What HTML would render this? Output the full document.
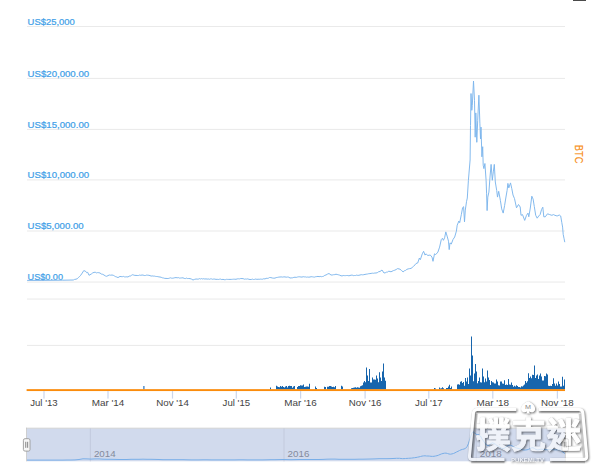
<!DOCTYPE html>
<html><head><meta charset="utf-8"><title>chart</title>
<style>
html,body{margin:0;padding:0;background:#fff;}
body{width:600px;height:476px;overflow:hidden;font-family:"Liberation Sans",sans-serif;}
svg{display:block;font-family:"Liberation Sans",sans-serif;}
</style></head><body>
<svg width="600" height="476" viewBox="0 0 600 476">
<rect width="600" height="476" fill="#fff"/>
<rect x="573" y="0" width="13" height="1" fill="#4a4a4a"/>
<rect x="27" y="25.97" width="538" height="1.06" fill="#eaeaea"/>
<rect x="27" y="77.87" width="538" height="1.06" fill="#eaeaea"/>
<rect x="27" y="128.87" width="538" height="1.06" fill="#eaeaea"/>
<rect x="27" y="179.37" width="538" height="1.06" fill="#eaeaea"/>
<rect x="27" y="230.47" width="538" height="1.06" fill="#eaeaea"/>
<rect x="27" y="281.52" width="538" height="1.06" fill="#eaeaea"/>
<rect x="27" y="298.52" width="538" height="1.06" fill="#eaeaea"/>
<rect x="27" y="344.87" width="538" height="1.06" fill="#eaeaea"/>
<text x="27.6" y="24.9" font-size="8.7" fill="#429fe8" stroke="#429fe8" stroke-width="0.22" textLength="47.2" lengthAdjust="spacingAndGlyphs">US$25,000</text>
<text x="27.6" y="76.80000000000001" font-size="8.7" fill="#429fe8" stroke="#429fe8" stroke-width="0.22" textLength="61.5" lengthAdjust="spacingAndGlyphs">US$20,000.00</text>
<text x="27.6" y="127.80000000000001" font-size="8.7" fill="#429fe8" stroke="#429fe8" stroke-width="0.22" textLength="61.5" lengthAdjust="spacingAndGlyphs">US$15,000.00</text>
<text x="27.6" y="178.3" font-size="8.7" fill="#429fe8" stroke="#429fe8" stroke-width="0.22" textLength="61.5" lengthAdjust="spacingAndGlyphs">US$10,000.00</text>
<text x="27.6" y="229.4" font-size="8.7" fill="#429fe8" stroke="#429fe8" stroke-width="0.22" textLength="56" lengthAdjust="spacingAndGlyphs">US$5,000.00</text>
<text x="27.6" y="280.45" font-size="8.7" fill="#429fe8" stroke="#429fe8" stroke-width="0.22" textLength="35.4" lengthAdjust="spacingAndGlyphs">US$0.00</text>
<path d="M27.5 280.4 L40.0 280.4 L62.7 280.2 L73.3 280.0 L74.6 279.4 L76.0 279.2 L77.3 278.7 L78.4 277.5 L79.6 276.5 L80.7 275.3 L82.2 273.1 L83.7 270.7 L85.3 271.0 L86.7 272.7 L87.7 272.3 L89.0 275.3 L91.3 274.0 L92.7 272.9 L94.0 272.4 L95.2 272.2 L96.4 272.9 L97.6 272.6 L98.8 272.7 L100.0 273.0 L101.3 274.0 L102.7 274.3 L104.0 275.0 L105.3 275.9 L106.7 276.3 L108.0 275.6 L109.3 275.0 L110.6 275.2 L112.0 275.0 L113.3 275.3 L114.5 276.0 L115.7 276.7 L116.8 277.0 L118.0 277.6 L120.0 276.4 L121.1 276.6 L122.3 276.7 L123.4 276.4 L124.6 276.9 L125.7 276.9 L126.9 276.8 L128.0 277.0 L129.2 276.1 L130.3 276.1 L131.5 275.3 L132.7 274.7 L133.8 275.1 L134.9 275.4 L136.0 275.4 L137.2 275.5 L138.4 275.5 L139.6 275.1 L140.8 275.3 L142.0 275.0 L143.1 275.1 L144.3 275.5 L145.4 275.5 L146.6 275.1 L147.7 275.2 L148.9 275.3 L150.0 275.6 L151.1 276.1 L152.2 275.9 L153.3 276.1 L154.4 276.1 L155.6 276.4 L156.7 276.5 L157.8 276.6 L158.9 276.9 L160.0 277.0 L161.2 277.3 L162.4 277.8 L163.6 278.0 L164.8 278.4 L166.0 278.4 L167.1 278.5 L168.2 278.5 L169.3 278.2 L170.4 277.8 L171.6 278.2 L172.7 278.2 L173.8 278.0 L174.9 277.7 L176.0 277.6 L177.2 277.8 L178.3 277.6 L179.5 278.1 L180.7 278.0 L181.8 277.9 L183.0 277.8 L184.2 278.4 L185.3 278.6 L186.5 278.1 L187.7 278.6 L188.8 278.5 L190.0 278.6 L191.5 279.1 L193.0 280.0 L194.5 279.4 L196.0 279.0 L197.1 279.1 L198.2 279.2 L199.3 278.6 L200.4 279.0 L201.6 278.6 L202.7 279.0 L203.8 278.7 L204.9 279.1 L206.0 278.8 L207.1 279.2 L208.2 278.9 L209.3 279.3 L210.4 278.9 L211.6 278.9 L212.7 279.3 L213.8 279.0 L214.9 279.1 L216.0 279.4 L217.2 279.3 L218.3 279.5 L219.5 279.2 L220.7 279.1 L221.8 279.6 L223.0 279.3 L224.2 279.7 L225.3 279.7 L226.5 279.3 L227.7 279.4 L228.8 279.4 L230.0 279.4 L231.2 279.4 L232.4 279.3 L233.6 279.2 L234.8 279.2 L236.0 279.3 L237.2 278.9 L238.4 278.8 L239.6 278.9 L240.8 278.5 L242.0 278.6 L243.1 278.6 L244.3 279.2 L245.4 279.0 L246.6 279.1 L247.7 278.9 L248.9 279.3 L250.0 279.5 L251.2 279.5 L252.3 279.1 L253.5 279.5 L254.6 279.4 L255.8 279.0 L256.9 279.4 L258.1 279.2 L259.2 279.3 L260.4 279.1 L261.5 279.2 L262.7 279.2 L263.8 278.7 L265.0 279.0 L266.1 278.3 L267.2 278.4 L268.4 278.2 L269.5 277.5 L270.9 277.6 L272.3 278.0 L273.8 278.2 L275.0 278.1 L276.2 277.6 L277.5 277.4 L278.8 277.1 L280.0 277.0 L281.2 276.9 L282.5 277.1 L283.8 276.9 L285.0 276.9 L286.2 277.2 L287.5 277.0 L288.8 277.2 L290.0 278.0 L291.2 277.9 L292.5 277.8 L293.8 277.4 L295.0 277.2 L296.2 277.4 L297.5 277.0 L298.6 276.8 L299.8 276.8 L300.9 277.0 L302.0 277.1 L303.2 276.7 L304.3 276.9 L305.5 276.9 L306.6 277.2 L307.7 277.0 L308.9 277.2 L310.0 277.0 L311.1 276.7 L312.3 276.8 L313.4 277.0 L314.5 277.1 L315.7 276.7 L316.8 276.6 L318.0 276.4 L319.1 276.7 L320.2 276.4 L321.4 276.7 L322.5 276.5 L323.7 276.2 L324.8 275.3 L326.0 275.0 L327.5 274.1 L329.0 273.5 L331.0 275.0 L332.2 275.0 L333.5 274.7 L334.8 274.6 L336.0 274.2 L337.2 274.5 L338.5 274.8 L339.8 275.2 L341.0 275.8 L342.1 275.9 L343.2 275.5 L344.4 275.6 L345.5 275.6 L346.6 275.5 L347.8 275.5 L348.9 275.8 L350.0 275.5 L351.1 275.2 L352.2 275.1 L353.3 275.6 L354.4 275.5 L355.6 275.5 L356.7 275.1 L357.8 275.4 L358.9 275.3 L360.0 275.0 L361.2 274.7 L362.5 274.8 L363.8 274.7 L365.0 274.4 L366.2 274.2 L367.5 274.0 L368.7 273.7 L369.9 273.6 L371.1 273.4 L372.4 273.2 L373.6 273.3 L374.8 273.0 L376.0 273.0 L377.3 272.7 L378.7 271.7 L380.0 271.5 L382.0 270.0 L384.0 273.0 L385.2 272.8 L386.4 272.2 L387.6 272.0 L388.8 271.2 L391.0 271.8 L393.4 270.6 L394.8 270.2 L396.2 269.5 L397.6 268.6 L400.0 269.2 L401.6 270.6 L403.1 271.9 L404.3 270.8 L405.6 270.4 L406.8 269.4 L408.2 268.9 L409.6 268.6 L411.0 268.4 L412.2 267.5 L413.5 266.4 L414.8 265.0 L416.0 263.5 L417.7 263.0 L419.4 258.0 L420.3 259.7 L422.3 253.8 L423.6 251.3 L425.0 255.1 L426.1 253.8 L427.8 255.5 L429.1 255.2 L430.3 255.1 L432.0 257.1 L433.0 261.3 L434.5 253.8 L435.7 254.6 L437.9 252.1 L439.6 247.1 L441.3 239.5 L442.4 238.3 L443.4 240.3 L444.6 237.8 L445.8 231.9 L447.1 236.1 L448.5 241.2 L449.2 249.6 L450.0 242.9 L451.3 244.0 L453.0 239.5 L454.7 237.0 L456.4 231.1 L457.2 225.2 L458.9 221.0 L459.7 222.7 L461.4 214.3 L462.6 207.6 L463.6 206.7 L464.5 221.8 L465.3 210.1 L466.5 201.7 L467.3 198.0 L468.4 180.3 L470.1 160.0 L470.5 125.5 L471.0 93.5 L471.8 110.3 L472.3 105.3 L473.5 81.0 L474.5 100.3 L475.2 137.2 L475.8 112.9 L476.8 142.3 L477.7 120.4 L478.9 95.2 L479.9 123.8 L480.5 138.9 L481.0 127.1 L481.9 156.8 L482.7 146.7 L483.2 165.2 L483.9 168.6 L484.9 163.5 L486.1 180.3 L486.6 193.8 L487.1 210.6 L487.8 197.1 L488.9 192.1 L490.0 177.0 L491.1 164.4 L492.3 180.3 L493.3 171.9 L494.3 164.4 L495.3 182.0 L496.7 190.4 L497.5 197.1 L498.7 191.3 L500.4 200.5 L501.7 208.9 L503.2 213.1 L504.6 205.5 L505.8 198.0 L507.1 190.4 L507.9 183.4 L508.8 187.9 L510.5 182.9 L511.8 188.7 L513.0 195.0 L514.5 198.6 L516.5 207.8 L518.5 204.5 L520.2 207.0 L521.0 215.3 L522.5 214.6 L524.7 220.4 L526.5 215.3 L528.0 213.1 L528.8 216.8 L530.3 208.0 L531.8 196.2 L533.1 199.1 L534.3 206.5 L535.7 215.3 L537.2 218.2 L538.7 216.0 L540.1 214.6 L541.6 209.4 L542.8 207.2 L543.8 216.8 L545.3 216.8 L547.5 213.8 L549.7 214.6 L551.9 215.3 L553.4 214.6 L554.9 215.3 L557.1 216.0 L559.3 215.0 L560.7 216.0 L561.8 222.6 L562.6 227.1 L563.2 234.4 L564.1 238.8 L564.7 241.8" fill="none" stroke="#7cb5ec" stroke-width="0.95" stroke-linejoin="round" stroke-linecap="round"/>
<path d="M270.0 389.5v-2.0h1v2.0zM276.0 389.5v-3.8h1v3.8zM277.0 389.5v-3.0h1v3.0zM278.0 389.5v-2.4h1v2.4zM279.0 389.5v-2.2h1v2.2zM280.0 389.5v-3.6h1v3.6zM281.0 389.5v-2.7h1v2.7zM282.0 389.5v-3.4h1v3.4zM283.0 389.5v-2.4h1v2.4zM284.0 389.5v-2.1h1v2.1zM285.0 389.5v-2.9h1v2.9zM286.0 389.5v-3.5h1v3.5zM287.0 389.5v-2.0h1v2.0zM288.0 389.5v-3.4h1v3.4zM289.0 389.5v-3.7h1v3.7zM290.0 389.5v-3.5h1v3.5zM291.0 389.5v-3.5h1v3.5zM292.0 389.5v-1.7h1v1.7zM293.0 389.5v-3.1h1v3.1zM294.0 389.5v-3.6h1v3.6zM297.0 389.5v-2.6h1v2.6zM298.0 389.5v-3.4h1v3.4zM299.0 389.5v-3.4h1v3.4zM300.0 389.5v-4.3h1v4.3zM301.0 389.5v-3.9h1v3.9zM302.0 389.5v-4.1h1v4.1zM303.0 389.5v-5.1h1v5.1zM304.0 389.5v-2.5h1v2.5zM305.0 389.5v-2.7h1v2.7zM306.0 389.5v-2.9h1v2.9zM307.0 389.5v-2.9h1v2.9zM308.0 389.5v-2.7h1v2.7zM309.0 389.5v-5.8h1v5.8zM315.0 389.5v-3.0h1v3.0zM316.0 389.5v-1.5h1v1.5zM324.0 389.5v-2.8h1v2.8zM325.0 389.5v-2.4h1v2.4zM327.0 389.5v-2.8h1v2.8zM328.0 389.5v-2.8h1v2.8zM329.0 389.5v-3.6h1v3.6zM330.0 389.5v-3.5h1v3.5zM331.0 389.5v-2.9h1v2.9zM332.0 389.5v-2.4h1v2.4zM333.0 389.5v-2.8h1v2.8zM334.0 389.5v-2.2h1v2.2zM335.0 389.5v-3.4h1v3.4zM341.0 389.5v-3.8h1v3.8zM342.0 389.5v-2.9h1v2.9zM351.0 389.5v-1.2h1v1.2zM352.0 389.5v-1.4h1v1.4zM353.0 389.5v-1.7h1v1.7zM354.0 389.5v-2.0h1v2.0zM355.0 389.5v-2.3h1v2.3zM356.0 389.5v-1.7h1v1.7zM357.0 389.5v-2.3h1v2.3zM358.0 389.5v-2.0h1v2.0zM359.0 389.5v-1.7h1v1.7zM360.0 389.5v-3.3h1v3.3zM361.0 389.5v-3.7h1v3.7zM362.0 389.5v-4.3h1v4.3zM363.0 389.5v-6.9h1v6.9zM364.0 389.5v-8.6h1v8.6zM365.0 389.5v-7.2h1v7.2zM366.0 389.5v-22.0h1v22.0zM367.0 389.5v-14.0h1v14.0zM368.0 389.5v-8.6h1v8.6zM369.0 389.5v-20.5h1v20.5zM370.0 389.5v-6.9h1v6.9zM371.0 389.5v-7.0h1v7.0zM372.0 389.5v-12.0h1v12.0zM373.0 389.5v-10.0h1v10.0zM374.0 389.5v-10.0h1v10.0zM375.0 389.5v-9.8h1v9.8zM376.0 389.5v-14.0h1v14.0zM377.0 389.5v-11.0h1v11.0zM378.0 389.5v-7.2h1v7.2zM379.0 389.5v-17.3h1v17.3zM380.0 389.5v-12.0h1v12.0zM381.0 389.5v-8.4h1v8.4zM382.0 389.5v-18.0h1v18.0zM383.0 389.5v-26.0h1v26.0zM384.0 389.5v-12.0h1v12.0zM385.0 389.5v-8.8h1v8.8zM434.0 389.5v-1.5h1v1.5zM435.0 389.5v-0.9h1v0.9zM439.0 389.5v-2.0h1v2.0zM440.0 389.5v-1.1h1v1.1zM441.0 389.5v-1.3h1v1.3zM442.0 389.5v-2.3h1v2.3zM443.0 389.5v-1.2h1v1.2zM446.0 389.5v-1.5h1v1.5zM447.0 389.5v-1.6h1v1.6zM448.0 389.5v-3.0h1v3.0zM449.0 389.5v-4.8h1v4.8zM450.0 389.5v-1.4h1v1.4zM451.0 389.5v-3.0h1v3.0zM457.0 389.5v-5.0h1v5.0zM458.0 389.5v-5.3h1v5.3zM459.0 389.5v-4.7h1v4.7zM460.0 389.5v-7.7h1v7.7zM461.0 389.5v-8.2h1v8.2zM462.0 389.5v-6.4h1v6.4zM463.0 389.5v-7.5h1v7.5zM464.0 389.5v-3.8h1v3.8zM465.0 389.5v-11.5h1v11.5zM466.0 389.5v-7.9h1v7.9zM467.0 389.5v-12.0h1v12.0zM468.0 389.5v-5.4h1v5.4zM469.0 389.5v-21.0h1v21.0zM470.0 389.5v-14.0h1v14.0zM471.0 389.5v-53.0h1v53.0zM472.0 389.5v-34.0h1v34.0zM473.0 389.5v-8.3h1v8.3zM474.0 389.5v-16.0h1v16.0zM475.0 389.5v-25.5h1v25.5zM476.0 389.5v-18.0h1v18.0zM477.0 389.5v-6.3h1v6.3zM478.0 389.5v-8.6h1v8.6zM479.0 389.5v-12.0h1v12.0zM480.0 389.5v-7.2h1v7.2zM481.0 389.5v-7.0h1v7.0zM482.0 389.5v-21.0h1v21.0zM483.0 389.5v-13.0h1v13.0zM484.0 389.5v-7.3h1v7.3zM485.0 389.5v-11.0h1v11.0zM486.0 389.5v-7.9h1v7.9zM487.0 389.5v-19.0h1v19.0zM488.0 389.5v-12.0h1v12.0zM489.0 389.5v-9.4h1v9.4zM490.0 389.5v-4.4h1v4.4zM491.0 389.5v-8.5h1v8.5zM492.0 389.5v-7.3h1v7.3zM493.0 389.5v-6.9h1v6.9zM494.0 389.5v-6.1h1v6.1zM495.0 389.5v-5.9h1v5.9zM496.0 389.5v-10.0h1v10.0zM497.0 389.5v-7.9h1v7.9zM498.0 389.5v-4.3h1v4.3zM499.0 389.5v-4.0h1v4.0zM500.0 389.5v-8.0h1v8.0zM501.0 389.5v-8.0h1v8.0zM502.0 389.5v-6.1h1v6.1zM503.0 389.5v-5.7h1v5.7zM504.0 389.5v-9.2h1v9.2zM505.0 389.5v-4.5h1v4.5zM506.0 389.5v-4.9h1v4.9zM507.0 389.5v-4.5h1v4.5zM508.0 389.5v-10.5h1v10.5zM509.0 389.5v-5.1h1v5.1zM510.0 389.5v-4.7h1v4.7zM511.0 389.5v-6.9h1v6.9zM512.0 389.5v-4.4h1v4.4zM513.0 389.5v-2.7h1v2.7zM514.0 389.5v-3.8h1v3.8zM515.0 389.5v-3.0h1v3.0zM516.0 389.5v-4.2h1v4.2zM517.0 389.5v-3.5h1v3.5zM518.0 389.5v-2.6h1v2.6zM519.0 389.5v-2.5h1v2.5zM520.0 389.5v-2.0h1v2.0zM521.0 389.5v-3.2h1v3.2zM522.0 389.5v-2.9h1v2.9zM523.0 389.5v-4.1h1v4.1zM524.0 389.5v-4.9h1v4.9zM525.0 389.5v-8.5h1v8.5zM526.0 389.5v-6.8h1v6.8zM527.0 389.5v-8.2h1v8.2zM528.0 389.5v-16.2h1v16.2zM529.0 389.5v-11.4h1v11.4zM530.0 389.5v-13.0h1v13.0zM531.0 389.5v-11.3h1v11.3zM532.0 389.5v-14.7h1v14.7zM533.0 389.5v-14.6h1v14.6zM534.0 389.5v-24.0h1v24.0zM535.0 389.5v-11.4h1v11.4zM536.0 389.5v-14.0h1v14.0zM537.0 389.5v-14.9h1v14.9zM538.0 389.5v-10.6h1v10.6zM539.0 389.5v-14.0h1v14.0zM540.0 389.5v-15.9h1v15.9zM541.0 389.5v-13.0h1v13.0zM542.0 389.5v-9.0h1v9.0zM543.0 389.5v-9.1h1v9.1zM544.0 389.5v-13.6h1v13.6zM545.0 389.5v-13.2h1v13.2zM546.0 389.5v-15.9h1v15.9zM547.0 389.5v-14.9h1v14.9zM548.0 389.5v-3.7h1v3.7zM549.0 389.5v-3.5h1v3.5zM550.0 389.5v-3.7h1v3.7zM551.0 389.5v-3.5h1v3.5zM552.0 389.5v-5.4h1v5.4zM553.0 389.5v-11.3h1v11.3zM554.0 389.5v-6.1h1v6.1zM555.0 389.5v-3.7h1v3.7zM556.0 389.5v-6.0h1v6.0zM557.0 389.5v-3.9h1v3.9zM558.0 389.5v-8.0h1v8.0zM559.0 389.5v-5.5h1v5.5zM560.0 389.5v-3.1h1v3.1zM561.0 389.5v-3.1h1v3.1zM562.0 389.5v-12.7h1v12.7zM563.0 389.5v-3.8h1v3.8zM564.0 389.5v-10.0h1v10.0z" fill="#1765ad"/>
<rect x="143.3" y="386" width="1.2" height="3.5" fill="#2a74c0"/>
<rect x="26.6" y="389.15" width="538.4" height="1.9" fill="#fb8c0c"/>
<rect x="43.4" y="391" width="1.2" height="7.6" fill="#ccd6eb"/>
<text x="30.2" y="406.1" font-size="9.8" fill="#444" textLength="27.5" lengthAdjust="spacingAndGlyphs">Jul '13</text>
<rect x="107.4" y="391" width="1.2" height="7.6" fill="#ccd6eb"/>
<text x="91.7" y="406.1" font-size="9.8" fill="#444" textLength="32.7" lengthAdjust="spacingAndGlyphs">Mar '14</text>
<rect x="171.9" y="391" width="1.2" height="7.6" fill="#ccd6eb"/>
<text x="156.2" y="406.1" font-size="9.8" fill="#444" textLength="32.7" lengthAdjust="spacingAndGlyphs">Nov '14</text>
<rect x="235.70000000000002" y="391" width="1.2" height="7.6" fill="#ccd6eb"/>
<text x="222.6" y="406.1" font-size="9.8" fill="#444" textLength="27.5" lengthAdjust="spacingAndGlyphs">Jul '15</text>
<rect x="300.0" y="391" width="1.2" height="7.6" fill="#ccd6eb"/>
<text x="284.2" y="406.1" font-size="9.8" fill="#444" textLength="32.7" lengthAdjust="spacingAndGlyphs">Mar '16</text>
<rect x="364.5" y="391" width="1.2" height="7.6" fill="#ccd6eb"/>
<text x="348.8" y="406.1" font-size="9.8" fill="#444" textLength="32.7" lengthAdjust="spacingAndGlyphs">Nov '16</text>
<rect x="428.2" y="391" width="1.2" height="7.6" fill="#ccd6eb"/>
<text x="415.1" y="406.1" font-size="9.8" fill="#444" textLength="27.5" lengthAdjust="spacingAndGlyphs">Jul '17</text>
<rect x="492.2" y="391" width="1.2" height="7.6" fill="#ccd6eb"/>
<text x="476.4" y="406.1" font-size="9.8" fill="#444" textLength="32.7" lengthAdjust="spacingAndGlyphs">Mar '18</text>
<rect x="556.8" y="391" width="1.2" height="7.6" fill="#ccd6eb"/>
<text x="541.0" y="406.1" font-size="9.8" fill="#444" textLength="32.7" lengthAdjust="spacingAndGlyphs">Nov '18</text>
<text transform="translate(574.7 144.8) rotate(90)" font-size="10" fill="#f78c12" stroke="#f78c12" stroke-width="0.15" textLength="18.6" lengthAdjust="spacingAndGlyphs">BTC</text>
<rect x="26.8" y="428.3" width="538.2" height="33" fill="#d1daed"/>
<rect x="26.2" y="427.7" width="539.4" height="0.9" fill="#d0d0d0"/>
<rect x="26.1" y="427.7" width="0.8" height="33.6" fill="#c4c4c4"/>
<rect x="564.9" y="427.7" width="0.8" height="33.6" fill="#c4c4c4"/>
<rect x="89.85" y="428.3" width="0.9" height="33" fill="#c0c8dc"/>
<text x="93.89999999999999" y="457.4" font-size="8.8" fill="#848a9c" textLength="21.8" lengthAdjust="spacingAndGlyphs">2014</text>
<rect x="283.55" y="428.3" width="0.9" height="33" fill="#c0c8dc"/>
<text x="287.6" y="457.4" font-size="8.8" fill="#848a9c" textLength="21.8" lengthAdjust="spacingAndGlyphs">2016</text>
<rect x="475.75" y="428.3" width="0.9" height="33" fill="#c0c8dc"/>
<text x="479.8" y="457.4" font-size="8.8" fill="#848a9c" textLength="21.8" lengthAdjust="spacingAndGlyphs">2018</text>
<path d="M27.0 460.1 L31.0 460.1 L35.0 460.1 L39.0 460.1 L43.0 460.1 L47.0 460.1 L51.0 460.1 L55.0 460.1 L59.0 460.1 L63.0 460.1 L67.0 460.0 L71.0 460.0 L75.0 459.9 L79.0 459.5 L83.0 458.8 L87.0 458.9 L91.0 459.1 L95.0 458.9 L99.0 458.9 L103.0 459.2 L107.0 459.3 L111.0 459.3 L115.0 459.4 L119.0 459.5 L123.0 459.5 L127.0 459.5 L131.0 459.3 L135.0 459.3 L139.0 459.3 L143.0 459.2 L147.0 459.3 L151.0 459.3 L155.0 459.4 L159.0 459.5 L163.0 459.7 L167.0 459.7 L171.0 459.7 L175.0 459.7 L179.0 459.7 L183.0 459.7 L187.0 459.8 L191.0 459.9 L195.0 459.9 L199.0 459.9 L203.0 459.8 L207.0 459.8 L211.0 459.9 L215.0 459.9 L219.0 459.9 L223.0 459.9 L227.0 459.9 L231.0 459.9 L235.0 459.9 L239.0 459.8 L243.0 459.8 L247.0 459.9 L251.0 459.9 L255.0 459.9 L259.0 459.9 L263.0 459.9 L267.0 459.8 L271.0 459.7 L275.0 459.7 L279.0 459.6 L283.0 459.5 L287.0 459.6 L291.0 459.7 L295.0 459.6 L299.0 459.5 L303.0 459.5 L307.0 459.5 L311.0 459.5 L315.0 459.5 L319.0 459.5 L323.0 459.4 L327.0 459.2 L331.0 459.1 L335.0 459.1 L339.0 459.3 L343.0 459.3 L347.0 459.3 L351.0 459.3 L355.0 459.3 L359.0 459.2 L363.0 459.2 L367.0 459.1 L371.0 459.0 L375.0 458.9 L379.0 458.7 L383.0 458.7 L387.0 458.7 L391.0 458.6 L395.0 458.4 L396.5 458.3 L398.0 458.3 L399.5 458.3 L401.0 458.5 L402.5 458.6 L404.0 458.6 L405.5 458.5 L407.0 458.4 L408.5 458.3 L410.0 458.2 L411.5 458.1 L413.0 457.9 L414.5 457.7 L416.0 457.5 L417.5 457.2 L419.0 456.9 L420.5 456.5 L422.0 456.1 L423.5 455.9 L425.0 455.8 L426.5 456.0 L428.0 456.0 L429.5 456.1 L431.0 456.3 L432.5 456.4 L434.0 456.3 L435.5 456.0 L437.0 455.7 L438.5 455.2 L440.0 454.5 L441.5 453.9 L443.0 453.5 L444.5 453.2 L446.0 453.1 L447.5 453.5 L449.0 454.0 L450.5 454.2 L452.0 453.9 L453.5 453.5 L455.0 452.8 L456.5 452.0 L458.0 451.3 L459.5 450.5 L461.0 449.8 L462.5 449.4 L464.0 449.0 L465.5 448.4 L467.0 446.7 L468.5 443.4 L470.0 438.6 L471.5 434.0 L473.0 431.7 L474.5 432.8 L476.0 434.3 L477.5 434.5 L479.0 434.8 L480.5 436.0 L482.0 439.0 L483.5 441.0 L485.0 443.3 L486.5 445.0 L488.0 445.8 L489.5 444.8 L491.0 443.6 L492.5 442.8 L494.0 443.5 L495.5 444.3 L497.0 445.6 L498.5 446.5 L500.0 447.3 L501.5 448.2 L503.0 448.6 L504.5 448.1 L506.0 446.8 L507.5 445.8 L509.0 445.1 L510.5 445.3 L512.0 445.8 L513.5 446.6 L515.0 447.5 L516.5 448.0 L518.0 448.3 L519.5 448.6 L521.0 449.1 L522.5 449.8 L524.0 450.0 L525.5 450.0 L527.0 449.8 L528.5 449.4 L530.0 448.6 L531.5 447.8 L533.0 447.7 L534.5 448.5 L536.0 449.5 L537.5 449.9 L539.0 449.8 L540.5 449.3 L542.0 449.2 L543.5 449.4 L545.0 449.7 L546.5 449.7 L548.0 449.6 L549.5 449.6 L551.0 449.7 L552.5 449.7 L554.0 449.7 L555.5 449.8 L557.0 449.8 L558.5 449.8 L560.0 450.1 L561.5 450.9 L563.0 452.2 L564.5 453.3 L565.0 453.6" fill="none" stroke="#79aee8" stroke-width="1" stroke-linejoin="round"/>
<rect x="23.4" y="438.7" width="6.6" height="12.4" rx="1.6" fill="#f7f7f7" stroke="#9a9a9a" stroke-width="0.9"/>
<path d="M25.75 441.8v6M27.65 441.8v6" stroke="#555" stroke-width="0.7" fill="none"/>
<rect x="561.9" y="438.7" width="6.6" height="12.4" rx="1.6" fill="#f7f7f7" stroke="#9a9a9a" stroke-width="0.9"/>
<path d="M564.25 441.8v6M566.15 441.8v6" stroke="#555" stroke-width="0.7" fill="none"/>
<defs><filter id="ws" x="-10%" y="-20%" width="120%" height="140%" color-interpolation-filters="sRGB"><feGaussianBlur in="SourceAlpha" stdDeviation="0.9" result="b"/><feOffset in="b" dx="0.6" dy="1" result="o"/><feComposite in="o" in2="SourceAlpha" operator="out" result="so"/><feComponentTransfer in="so" result="sh"><feFuncA type="linear" slope="0.55"/></feComponentTransfer><feGaussianBlur in="SourceAlpha" stdDeviation="0.5" result="b2"/><feComposite in="b2" in2="SourceAlpha" operator="out" result="go"/><feComponentTransfer in="go" result="gl"><feFuncA type="linear" slope="0.25"/></feComponentTransfer><feComponentTransfer in="SourceGraphic" result="src"><feFuncA type="linear" slope="0.66"/></feComponentTransfer><feMerge><feMergeNode in="sh"/><feMergeNode in="gl"/><feMergeNode in="src"/></feMerge></filter></defs>
<filter id="bl" x="-10%" y="-10%" width="120%" height="120%"><feGaussianBlur stdDeviation="0.6"/></filter>
<g opacity="1">
<path filter="url(#bl)" d="M476.5 413.9 L472.3 457.6 M579.9 413.9 L584.1 457.6 M476.7 412.0 L516.3 412.0 M538.8 412.0 L579.5 412.0 M471.2 462.0 L504.5 462.0 M550 462.0 L585.0 462.0" fill="none" stroke="#000" stroke-opacity="0.19" stroke-width="2.5"/>
<g filter="url(#ws)">
<path d="M516.3 409.4 L477.2 409.4 Q473.7 409.4 473.45 412.9 L469.45 456.1 Q469.2 459.6 472.7 459.6 L504.5 459.6" fill="none" stroke="#fff" stroke-width="3"/>
<path d="M538.8 409.4 L579.0 409.4 Q582.5 409.4 582.8 412.9 L586.7 456.1 Q587.0 459.6 583.5 459.6 L550 459.6" fill="none" stroke="#fff" stroke-width="3"/>
<path d="M528.1 401.3 C531 402.6 535.4 405.2 535.1 409.2 C534.8 412.7 530.6 412.9 529.1 411.3 C529.1 412.2 529.4 413 530 413.6 L526.2 413.6 C526.8 413 527.1 412.2 527.1 411.3 C525.6 412.9 521.4 412.7 521.1 409.2 C520.8 405.2 525.2 402.6 528.1 401.3Z" fill="#fff"/>
<text x="475.7 510.95 546.2" y="447.9" font-size="35" font-weight="bold" font-family="'Liberation Sans','Noto Sans CJK TC',sans-serif" fill="#fff" stroke="#fff" stroke-width="0.8" stroke-linejoin="round">撲克迷</text>
<text x="511" y="461.7" font-size="5.4" font-weight="bold" fill="#fff" textLength="33" lengthAdjust="spacingAndGlyphs">PUKEMI.TV</text>
</g>
</g>
<text x="525" y="409.2" font-size="6.2" fill="#8a8a8a" textLength="6" lengthAdjust="spacingAndGlyphs">M</text>
</svg>
</body></html>
